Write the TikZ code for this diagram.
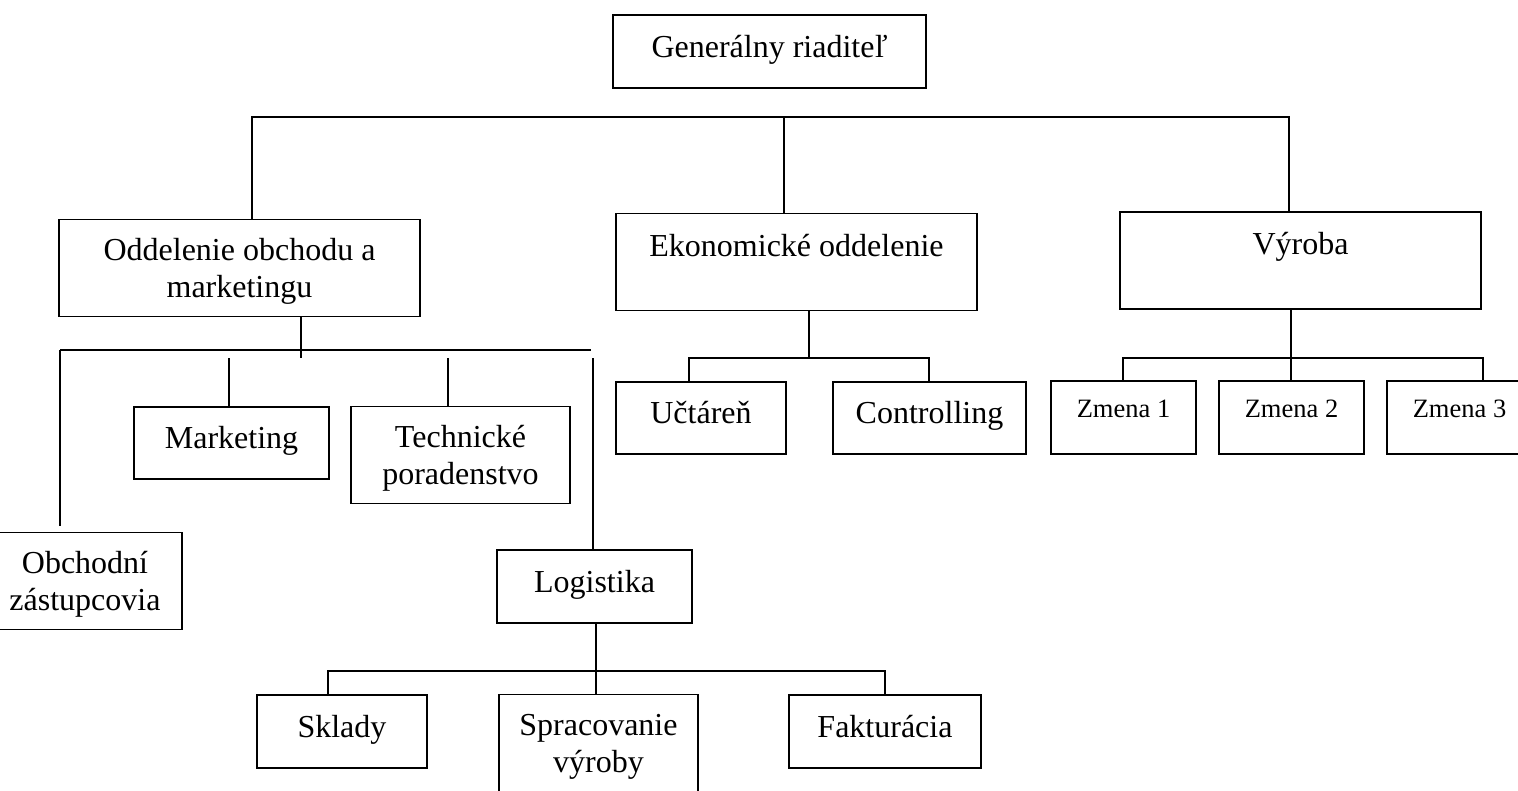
\documentclass[tikz,border=0pt]{standalone}
\usepackage{fontspec}
\setmainfont{Liberation Serif}
\newcommand{\firstline}{\rule{0pt}{28.5pt}}
\begin{document}
\begin{tikzpicture}[
  x=1pt, y=-1pt,
  line width=1.8pt,
  every node/.style={font=\fontsize{32}{37.5}\selectfont},
  unitbox/.style={draw, align=center, inner sep=0pt, minimum height=73pt, text height=21pt, text depth=10pt},
  tallbox/.style={draw, align=center, inner sep=0pt, minimum height=97pt},
  headbox/.style={unitbox, minimum height=97pt, minimum width=361pt, text depth=33pt},
  zmena/.style={unitbox, font=\fontsize{26.5}{32}\selectfont, minimum width=145pt, text height=17pt, text depth=17pt}
]
\useasboundingbox (0,0) rectangle (1518,790);
\node[unitbox, minimum width=313pt] (gr) at (769.5,51.5) {Generálny riaditeľ};
\node[tallbox, minimum width=361pt] (obch) at (239.5,268) {\firstline Oddelenie obchodu a\\marketingu};
\node[headbox] (ekon) at (796.5,262) {Ekonomické oddelenie};
\node[headbox] (vyr) at (1300.5,260.5) {Výroba};
\node[unitbox, minimum width=195pt, minimum height=72pt] (mark) at (231.5,443) {Marketing};
\node[tallbox, minimum width=219pt] (tech) at (460.5,455) {\firstline Technické\\poradenstvo};
\node[tallbox, minimum width=194pt] (zast) at (85,581) {\firstline Obchodní\\zástupcovia};
\node[unitbox, minimum width=195pt] (log) at (594.5,586.5) {Logistika};
\node[unitbox, minimum width=170pt] (skl) at (342,731.5) {Sklady};
\node[tallbox, minimum width=199pt] (spr) at (598.5,743) {\firstline Spracovanie\\výroby};
\node[unitbox, minimum width=192pt] (fakt) at (885,731.5) {Fakturácia};
\node[unitbox, minimum width=170pt, minimum height=72pt] (uct) at (701,418) {Učtáreň};
\node[unitbox, minimum width=193pt, minimum height=72pt] (ctrl) at (929.5,418) {Controlling};
\node[zmena] (z1) at (1123.5,417.5) {Zmena 1};
\node[zmena] (z2) at (1291.5,417.5) {Zmena 2};
\node[zmena] (z3) at (1459.5,417.5) {Zmena 3};

\coordinate (topL) at (252,117);
\coordinate (topM) at (784,117);
\coordinate (topR) at (1289,117);
\draw (obch.north -| topL) -- (topL) -- (topR) -- (vyr.north -| topR);
\draw (topM) -- (ekon.north -| topM);

\coordinate (obchL) at (60,350);
\coordinate (obchR) at (591,350);
\coordinate (obchD) at (301,358);
\draw (obchL) -- (obchR);
\draw (obch.south -| obchD) -- (obchD);
\draw (obchL) -- ([yshift=6pt]zast.north -| obchL);
\foreach \n/\x in {mark/229, tech/448, log/593}
  \draw (\x,358) -- (\n.north -| \x,0);

\coordinate (logL) at (328,671);
\coordinate (logR) at (885,671);
\draw (log.south -| 596,0) -- (spr.north -| 596,0);
\draw (skl.north -| logL) -- (logL) -- (logR) -- (fakt.north -| logR);

\coordinate (ekonD) at (809,358);
\coordinate (ekonL) at (689,358);
\coordinate (ekonR) at (929,358);
\draw (ekon.south -| ekonD) -- (ekonD);
\draw (uct.north -| ekonL) -- (ekonL) -- (ekonR) -- (ctrl.north -| ekonR);

\coordinate (vyrL) at (1123,358);
\coordinate (vyrR) at (1483,358);
\draw (vyr.south -| 1291,0) -- (z2.north -| 1291,0);
\draw (z1.north -| vyrL) -- (vyrL) -- (vyrR) -- (z3.north -| vyrR);
\end{tikzpicture}
\end{document}
